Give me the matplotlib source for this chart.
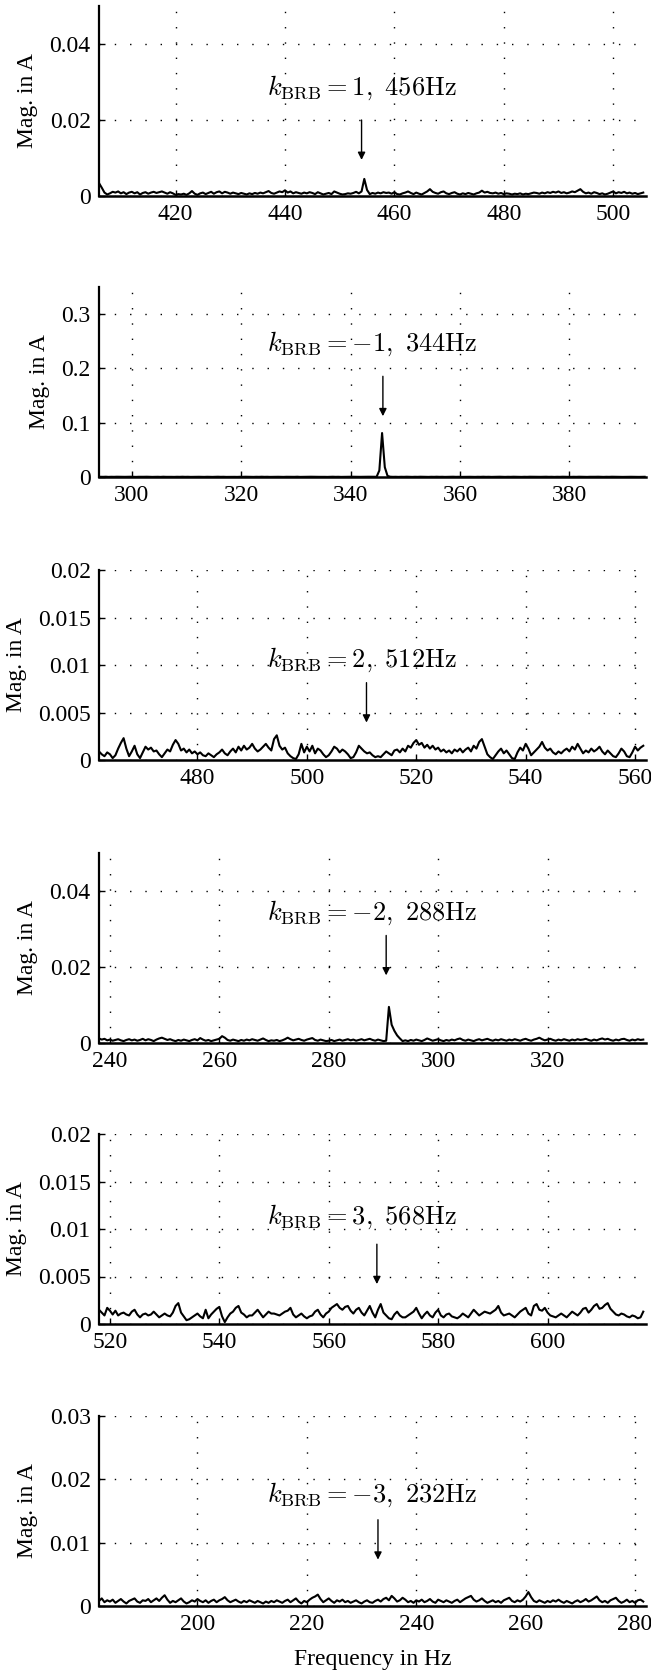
import matplotlib
matplotlib.use("Agg")
import matplotlib.pyplot as plt
import numpy as np

plt.rcParams["font.family"] = ["Liberation Serif", "DejaVu Serif"]
plt.rcParams["mathtext.fontset"] = "cm"

# ---- data: sideband spectra, 0.5 Hz bins, magnitude in units of 1e-4 A ----
DF = 0.5
K_BRB = [1, -1, 2, -2, 3, -3]
F_EXPECTED = [456, 344, 512, 288, 568, 232]
F_START = [406.0, 294.25, 462.0, 238.0, 518.0, 182.0]
F_MARK = [454.0, 345.9, 510.9, 290.5, 568.8, 233.0]

XLIMS = [(406, 506), (294, 394), (462, 562), (238, 338), (518, 618), (182, 282)]
XTICKS = [
    [420, 440, 460, 480, 500],
    [300, 320, 340, 360, 380],
    [480, 500, 520, 540, 560],
    [240, 260, 280, 300, 320],
    [520, 540, 560, 580, 600],
    [200, 220, 240, 260, 280],
]
YMAX = [0.05, 0.35, 0.02, 0.05, 0.02, 0.03]
YTICKS = [
    [0, 0.02, 0.04],
    [0, 0.1, 0.2, 0.3],
    [0, 0.005, 0.01, 0.015, 0.02],
    [0, 0.02, 0.04],
    [0, 0.005, 0.01, 0.015, 0.02],
    [0, 0.01, 0.02, 0.03],
]
YTICKLABELS = [
    ["0", "0.02", "0.04"],
    ["0", "0.1", "0.2", "0.3"],
    ["0", "0.005", "0.01", "0.015", "0.02"],
    ["0", "0.02", "0.04"],
    ["0", "0.005", "0.01", "0.015", "0.02"],
    ["0", "0.01", "0.02", "0.03"],
]

MAG_1 = [34, 22, 9, 4, 7, 11, 9, 12, 7, 10,
         5, 9, 11, 7, 10, 4, 8, 10, 6, 9,
         11, 8, 10, 12, 9, 6, 10, 7, 3, 5,
         4, 6, 3, 7, 13, 6, 3, 7, 9, 5,
         8, 11, 6, 10, 12, 7, 11, 9, 6, 9,
         7, 5, 8, 6, 4, 7, 5, 8, 6, 9,
         7, 10, 13, 8, 6, 9, 12, 10, 15, 9,
         12, 7, 10, 8, 6, 9, 7, 10, 8, 5,
         10, 7, 4, 6, 8, 5, 12, 9, 6, 4,
         5, 7, 6, 8, 11, 7, 12, 45, 16, 5,
         8, 6, 9, 7, 10, 8, 9, 6, 10, 5,
         4, 7, 9, 12, 8, 5, 9, 6, 4, 8,
         12, 18, 11, 8, 6, 10, 12, 7, 5, 8,
         10, 6, 4, 7, 5, 8, 6, 4, 7, 9,
         14, 9, 11, 8, 7, 9, 6, 8, 5, 7,
         6, 4, 6, 5, 7, 4, 6, 5, 7, 9,
         8, 6, 9, 7, 10, 8, 11, 9, 12, 8,
         10, 7, 9, 12, 10, 14, 18, 11, 7, 9,
         6, 10, 8, 5, 7, 4, 6, 9, 12, 7,
         10, 8, 11, 7, 9, 6, 8, 5, 7, 9]

MAG_2 = [4, 3, 5, 2, 4, 3, 5, 4, 2, 3,
         4, 5, 3, 2, 4, 3, 4, 5, 3, 2,
         3, 4, 2, 5, 3, 4, 3, 2, 4, 3,
         5, 3, 4, 2, 3, 5, 4, 3, 2, 4,
         3, 2, 4, 5, 3, 4, 2, 3, 4, 3,
         2, 4, 3, 5, 4, 3, 2, 4, 3, 5,
         3, 4, 2, 3, 5, 4, 3, 2, 4, 3,
         4, 3, 5, 2, 3, 4, 3, 5, 4, 2,
         3, 4, 3, 2, 4, 5, 3, 4, 2, 3,
         4, 3, 5, 4, 2, 3, 4, 3, 5, 4,
         3, 4, 120, 810, 180, 20, 5, 3, 4, 2,
         4, 3, 5, 3, 2, 4, 3, 5, 4, 3,
         2, 4, 3, 5, 3, 4, 2, 3, 4, 5,
         3, 4, 2, 3, 5, 4, 3, 2, 4, 3,
         5, 3, 4, 2, 3, 4, 5, 3, 2, 4,
         3, 5, 4, 3, 2, 4, 3, 5, 4, 3,
         2, 3, 4, 5, 3, 4, 2, 4, 3, 5,
         4, 3, 2, 4, 3, 5, 4, 3, 2, 4,
         3, 4, 5, 3, 2, 4, 3, 5, 4, 3,
         4, 2, 3, 5, 4, 3, 4, 2, 3, 4]

MAG_3 = [9, 6, 4, 8, 6, 2, 5, 12, 18, 23,
         12, 4, 9, 15, 6, 2, 8, 14, 11, 13,
         9, 10, 6, 3, 7, 11, 9, 16, 21, 17,
         10, 12, 8, 11, 7, 9, 6, 8, 5, 4,
         7, 5, 3, 6, 8, 11, 7, 5, 9, 12,
         8, 14, 10, 15, 11, 13, 17, 12, 9, 11,
         14, 17, 13, 10, 22, 26, 15, 11, 13, 7,
         4, 2, 1, 6, 17, 8, 14, 9, 15, 7,
         12, 10, 6, 3, 5, 9, 14, 12, 8, 11,
         9, 6, 2, 3, 8, 15, 12, 9, 7, 8,
         5, 3, 4, 3, 6, 9, 7, 5, 10, 11,
         8, 12, 9, 15, 13, 18, 21, 16, 18, 13,
         16, 12, 15, 11, 13, 9, 11, 8, 10, 7,
         11, 9, 12, 8, 11, 13, 9, 15, 12, 19,
         22, 14, 6, 3, 1, 5, 9, 12, 7, 10,
         6, 2, 1, 8, 13, 10, 17, 12, 5, 8,
         11, 14, 19, 13, 10, 12, 8, 6, 9, 7,
         10, 12, 9, 14, 11, 17, 12, 7, 10, 8,
         12, 9, 11, 14, 9, 6, 10, 7, 4, 3,
         7, 12, 9, 4, 3, 8, 14, 10, 13, 15]

MAG_4 = [12, 9, 11, 7, 9, 6, 8, 10, 7, 5,
         8, 10, 7, 9, 6, 8, 11, 7, 10, 8,
         5, 9, 12, 14, 11, 8, 10, 7, 5, 8,
         6, 9, 7, 5, 8, 10, 7, 13, 9, 6,
         8, 5, 7, 9, 11, 18, 14, 8, 6, 9,
         7, 5, 8, 6, 9, 7, 10, 8, 6, 9,
         12, 8, 5, 7, 6, 8, 5, 7, 10, 14,
         10, 7, 9, 11, 8, 6, 9, 11, 13, 8,
         6, 9, 7, 5, 6, 8, 5, 7, 9, 6,
         8, 10, 7, 9, 6, 8, 10, 7, 9, 11,
         8, 6, 9, 7, 5, 6, 95, 48, 32, 20,
         12, 5, 7, 5, 8, 6, 9, 7, 5, 8,
         12, 9, 6, 8, 10, 7, 5, 8, 6, 9,
         7, 10, 12, 8, 6, 9, 7, 5, 8, 10,
         7, 9, 11, 8, 6, 9, 7, 10, 8, 6,
         9, 7, 10, 8, 6, 9, 11, 8, 6, 9,
         11, 14, 10, 7, 9, 11, 8, 6, 9, 7,
         10, 8, 6, 9, 7, 10, 8, 9, 11, 8,
         6, 9, 7, 10, 12, 9, 11, 8, 6, 9,
         7, 10, 11, 8, 6, 9, 7, 10, 8, 9]

MAG_5 = [15, 12, 9, 17, 14, 10, 14, 9, 11, 12,
         10, 9, 13, 15, 10, 7, 10, 11, 9, 10,
         13, 10, 7, 9, 11, 9, 8, 12, 19, 22,
         12, 8, 4, 5, 7, 9, 11, 8, 6, 15,
         6, 10, 13, 16, 18, 8, 2, 7, 11, 13,
         17, 19, 12, 10, 7, 9, 9, 12, 15, 11,
         7, 10, 13, 11, 11, 10, 9, 11, 13, 14,
         17, 10, 7, 9, 11, 8, 6, 8, 9, 13,
         15, 10, 7, 11, 13, 17, 19, 21, 17, 15,
         18, 19, 14, 11, 15, 17, 12, 9, 14, 19,
         12, 7, 15, 21, 12, 9, 6, 5, 10, 13,
         9, 7, 7, 9, 11, 13, 17, 11, 6, 10,
         13, 9, 7, 12, 15, 9, 7, 10, 11, 8,
         7, 6, 8, 11, 9, 7, 11, 15, 12, 9,
         11, 13, 12, 11, 13, 15, 19, 12, 9, 10,
         11, 9, 7, 10, 13, 15, 17, 11, 9, 19,
         21, 15, 14, 17, 12, 9, 8, 7, 9, 11,
         9, 7, 10, 13, 11, 9, 12, 16, 17, 12,
         15, 19, 21, 16, 17, 20, 22, 16, 13, 10,
         9, 11, 10, 8, 7, 9, 8, 6, 7, 13]

MAG_6 = [8, 12, 6, 9, 7, 10, 5, 8, 11, 7,
         4, 8, 10, 12, 7, 5, 9, 8, 11, 6,
         9, 12, 8, 13, 17, 10, 5, 8, 6, 9,
         12, 7, 4, 6, 9, 7, 11, 8, 6, 9,
         5, 8, 10, 6, 9, 11, 14, 9, 6, 8,
         10, 7, 5, 8, 6, 9, 7, 5, 8, 6,
         4, 7, 5, 8, 6, 9, 7, 5, 8, 10,
         6, 9, 12, 7, 4, 8, 6, 10, 13, 15,
         18, 11, 6, 9, 12, 8, 5, 9, 7, 10,
         6, 8, 5, 7, 9, 6, 4, 7, 9, 6,
         5, 8, 10, 7, 11, 13, 9, 16, 12, 7,
         9, 13, 10, 6, 8, 5, 9, 7, 10, 6,
         8, 11, 7, 5, 10, 8, 6, 9, 7, 5,
         8, 10, 6, 9, 12, 14, 16, 10, 7, 9,
         12, 8, 5, 7, 9, 6, 8, 5, 9, 11,
         13, 8, 6, 9, 7, 10, 15, 22, 14, 8,
         6, 9, 7, 5, 8, 6, 9, 7, 10, 7,
         5, 8, 6, 4, 7, 9, 6, 8, 11, 7,
         9, 12, 15, 9, 6, 8, 5, 9, 11, 13,
         8, 5, 7, 10, 6, 8, 5, 9, 10, 7]

MAGS = [MAG_1, MAG_2, MAG_3, MAG_4, MAG_5, MAG_6]

# ---- layout (pixels of the 651 x 1672 canvas) ----
W, H = 651, 1672
AX_LEFT, AX_RIGHT = 99, 646
AX_TOPS = [6, 287, 570, 853, 1134, 1416]
AX_H = 190
TEXT_Y = [0.568, 0.70, 0.526, 0.683, 0.567, 0.586]
ARROW_TOP = [0.40, 0.53, 0.407, 0.566, 0.42, 0.454]
ARROW_LEN = 0.21

fig = plt.figure(figsize=(W / 100, H / 100), dpi=100)

for k in range(6):
    rect = [AX_LEFT / W, 1 - (AX_TOPS[k] + AX_H) / H, (AX_RIGHT - AX_LEFT) / W, AX_H / H]
    ax = fig.add_axes(rect)
    mag = np.array(MAGS[k]) * 1e-4
    f = F_START[k] + DF * np.arange(len(mag))
    ax.plot(f, mag, color="k", lw=1.5, zorder=3)

    ax.set_xlim(*XLIMS[k])
    ax.set_ylim(0, YMAX[k])
    ax.set_xticks(XTICKS[k])
    ax.set_yticks(YTICKS[k])
    ax.set_yticklabels(YTICKLABELS[k])
    ax.tick_params(direction="in", length=4, width=1, labelsize=17, pad=6)
    ax.spines["top"].set_visible(False)
    ax.spines["right"].set_visible(False)
    ax.spines["left"].set_linewidth(1.6)
    ax.spines["bottom"].set_linewidth(1.8)
    ax.grid(True, color="k", lw=1.0, ls=(0, (1, 10)))
    ax.set_axisbelow(True)
    ax.set_ylabel("Mag. in A", fontsize=17, labelpad=8)

    label = rf"$k_{{\mathrm{{BRB}}}} = {K_BRB[k]},\ {F_EXPECTED[k]}\mathrm{{Hz}}$"
    ax.text(0.307, TEXT_Y[k], label, transform=ax.transAxes, ha="left", va="center",
            fontsize=19, zorder=4)
    ymax = YMAX[k]
    ax.annotate("", xy=(F_MARK[k], ymax * (ARROW_TOP[k] - ARROW_LEN)),
                xytext=(F_MARK[k], ymax * ARROW_TOP[k]),
                arrowprops=dict(arrowstyle="-|>", color="k", lw=1.0,
                                mutation_scale=11, shrinkA=0, shrinkB=0))

ax.set_xlabel("Frequency in Hz", fontsize=17, labelpad=10)

fig.savefig("out.png", dpi=100)
